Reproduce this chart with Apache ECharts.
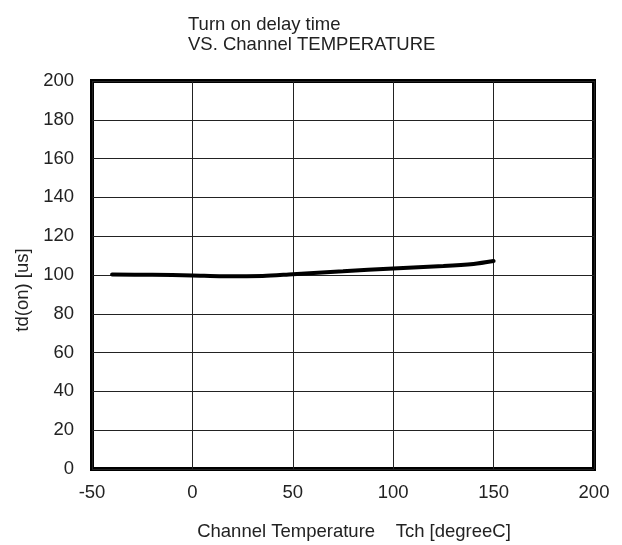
<!DOCTYPE html>
<html>
<head>
<meta charset="utf-8">
<script src="https://cdn.jsdelivr.net/npm/echarts@6/dist/echarts.min.js"></script>
<style>html,body{margin:0;padding:0;background:#fff;}#c{width:622px;height:545px;}</style>
</head>
<body>
<div id="c"></div>
<script>
const temps = [-40, -20, 0, 15, 35, 50, 75, 100, 125, 140, 150];
const delay = [100.3, 100.1, 99.8, 99.4, 99.5, 100.4, 101.9, 103.4, 104.6, 105.7, 107.2];
const titleLines = ['Turn on delay time', 'VS. Channel TEMPERATURE'];
const xName = 'Channel Temperature    Tch [degreeC]';
const yName = 'td(on) [us]';

const chart = echarts.init(document.getElementById('c'), null, {renderer: 'canvas'});
const font = 'Arial, "Liberation Sans", sans-serif';
const fs = 18.5;
chart.setOption({
  animation: false,
  backgroundColor: '#fff',
  title: {
    text: titleLines.join('\n'),
    left: 183, top: 10,
    textStyle: {fontFamily: font, fontSize: fs, fontWeight: 'normal', color: '#222', lineHeight: 20}
  },
  grid: {left: 92, right: 28, top: 81, bottom: 76, show: true, borderColor: '#000', borderWidth: 4,
         backgroundColor: 'transparent', containLabel: false, outerBoundsMode: 'none'},
  xAxis: {
    type: 'value', min: -50, max: 200, interval: 50,
    name: xName, nameLocation: 'middle', nameGap: 53,
    nameTextStyle: {fontFamily: font, fontSize: fs, color: '#222', padding: [0, 0, 0, 22]},
    axisLine: {show: false}, axisTick: {show: false},
    axisLabel: {fontFamily: font, fontSize: fs, color: '#222', margin: 14},
    splitLine: {show: true, lineStyle: {color: '#222', width: 1}}
  },
  yAxis: {
    type: 'value', min: 0, max: 200, interval: 20,
    name: yName, nameLocation: 'middle', nameGap: 45, nameRotate: 90,
    nameTextStyle: {fontFamily: font, fontSize: fs, color: '#222', padding: [0, 30, 0, 0]},
    axisLine: {show: false}, axisTick: {show: false},
    axisLabel: {fontFamily: font, fontSize: fs, color: '#222', margin: 18},
    splitLine: {show: true, lineStyle: {color: '#222', width: 1}}
  },
  series: [{
    type: 'line', smooth: 0.3, symbol: 'none',
    data: temps.map((t, i) => [t, delay[i]]),
    lineStyle: {color: '#000', width: 4, cap: 'round'}
  }]
});
</script>
</body>
</html>
